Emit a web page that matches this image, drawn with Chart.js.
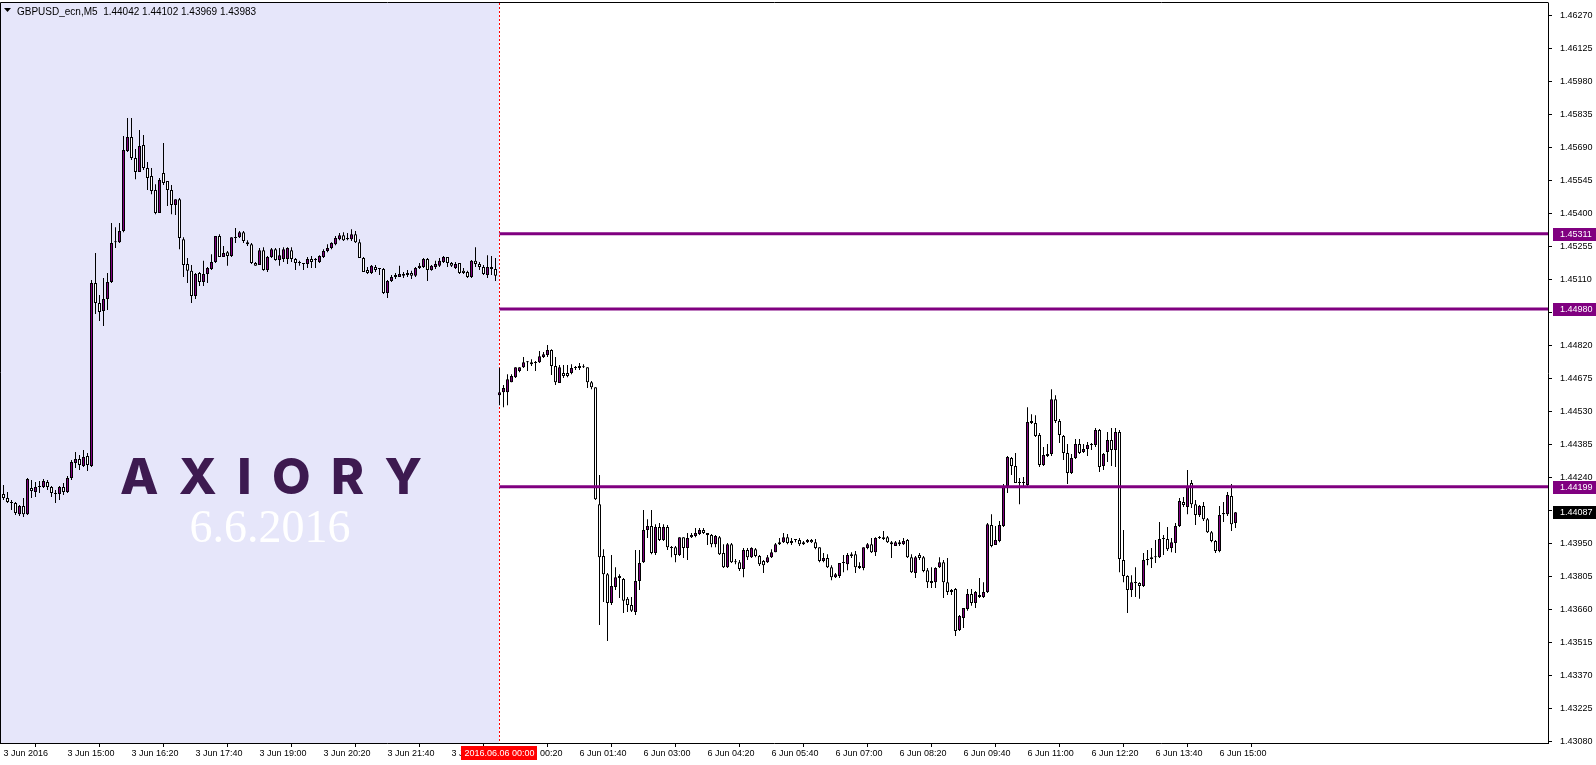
<!DOCTYPE html>
<html>
<head>
<meta charset="utf-8">
<script src="https://cdn.jsdelivr.net/npm/chart.js@4/dist/chart.umd.min.js"></script>
<style>
  html, body { margin: 0; padding: 0; background: #ffffff; }
  canvas { display: block; }
</style>
</head>
<body>
<canvas id="myChart" width="1596" height="765"></canvas>
<script>
// GBPUSD M5, 3 Jun 2016 13:40 .. 6 Jun 2016 15:20 (one value per bar)
const openP = [
	1.44167, 1.44150, 1.44128, 1.44128, 1.44079, 1.44115, 1.44079, 1.44194, 1.44176, 1.44198,
	1.44198, 1.44220, 1.44198, 1.44167, 1.44167, 1.44198, 1.44176, 1.44238, 1.44304, 1.44321,
	1.44291, 1.44335, 1.44291, 1.45095, 1.45007, 1.44972, 1.45024, 1.45099, 1.45274, 1.45274,
	1.45323, 1.45675, 1.45736, 1.45644, 1.45582, 1.45701, 1.45600, 1.45565, 1.45503, 1.45402,
	1.45578, 1.45543, 1.45503, 1.45437, 1.45463, 1.45287, 1.45178, 1.45148, 1.45038, 1.45139,
	1.45099, 1.45134, 1.45156, 1.45187, 1.45301, 1.45209, 1.45230, 1.45213, 1.45292, 1.45296,
	1.45318, 1.45274, 1.45265, 1.45183, 1.45174, 1.45239, 1.45152, 1.45209, 1.45243, 1.45196,
	1.45200, 1.45200, 1.45239, 1.45200, 1.45183, 1.45178, 1.45178, 1.45200, 1.45196, 1.45187,
	1.45209, 1.45235, 1.45248, 1.45265, 1.45287, 1.45305, 1.45287, 1.45287, 1.45309, 1.45274,
	1.45204, 1.45152, 1.45139, 1.45165, 1.45156, 1.45156, 1.45051, 1.45104, 1.45121, 1.45121,
	1.45126, 1.45130, 1.45139, 1.45126, 1.45161, 1.45165, 1.45200, 1.45152, 1.45165, 1.45170,
	1.45187, 1.45209, 1.45183, 1.45161, 1.45183, 1.45148, 1.45143, 1.45121, 1.45192, 1.45178,
	1.45165, 1.45130, 1.45165, 1.45156, 1.44602, 1.44615, 1.44615, 1.44659, 1.44681, 1.44708,
	1.44725, 1.44747, 1.44747, 1.44743, 1.44747, 1.44769, 1.44778, 1.44800, 1.44730, 1.44655,
	1.44699, 1.44699, 1.44699, 1.44721, 1.44721, 1.44725, 1.44725, 1.44659, 1.44637, 1.44123,
	1.43895, 1.43815, 1.43689, 1.43759, 1.43807, 1.43794, 1.43707, 1.43680, 1.43649, 1.43785,
	1.43868, 1.44009, 1.44027, 1.43908, 1.44022, 1.43965, 1.44022, 1.43934, 1.43934, 1.43899,
	1.43978, 1.43930, 1.43978, 1.43983, 1.43992, 1.44009, 1.43996, 1.43987, 1.43947, 1.43978,
	1.43908, 1.43846, 1.43947, 1.43868, 1.43868, 1.43838, 1.43921, 1.43890, 1.43925, 1.43895,
	1.43873, 1.43868, 1.43890, 1.43912, 1.43947, 1.43956, 1.43978, 1.43952, 1.43965, 1.43965,
	1.43947, 1.43956, 1.43965, 1.43956, 1.43934, 1.43873, 1.43886, 1.43846, 1.43802, 1.43807,
	1.43864, 1.43859, 1.43895, 1.43903, 1.43851, 1.43842, 1.43930, 1.43947, 1.43912, 1.43974,
	1.43970, 1.43978, 1.43956, 1.43939, 1.43956, 1.43947, 1.43965, 1.43890, 1.43820, 1.43899,
	1.43890, 1.43833, 1.43785, 1.43780, 1.43846, 1.43868, 1.43780, 1.43746, 1.43750, 1.43570,
	1.43623, 1.43662, 1.43728, 1.43689, 1.43724, 1.43715, 1.43737, 1.44031, 1.43943, 1.43961,
	1.44027, 1.44203, 1.44326, 1.44291, 1.44216, 1.44216, 1.44207, 1.44488, 1.44480, 1.44427,
	1.44295, 1.44335, 1.44343, 1.44584, 1.44488, 1.44422, 1.44348, 1.44260, 1.44326, 1.44387,
	1.44352, 1.44365, 1.44383, 1.44383, 1.44449, 1.44291, 1.44352, 1.44405, 1.44361, 1.44440,
	1.43877, 1.43807, 1.43746, 1.43776, 1.43776, 1.43763, 1.43877, 1.43882, 1.43890, 1.43890,
	1.43970, 1.43970, 1.43930, 1.43952, 1.44027, 1.44132, 1.44110, 1.44216, 1.44123, 1.44075,
	1.44115, 1.44057, 1.44000, 1.43961, 1.43917, 1.44079, 1.44079, 1.44159, 1.44040
];
const highP = [
	1.44207, 1.44176, 1.44141, 1.44132, 1.44119, 1.44150, 1.44238, 1.44229, 1.44220, 1.44225,
	1.44233, 1.44229, 1.44203, 1.44185, 1.44203, 1.44216, 1.44247, 1.44317, 1.44352, 1.44339,
	1.44361, 1.44348, 1.45108, 1.45226, 1.45042, 1.45117, 1.45139, 1.45358, 1.45340, 1.45358,
	1.45741, 1.45820, 1.45820, 1.45683, 1.45767, 1.45745, 1.45626, 1.45600, 1.45529, 1.45556,
	1.45710, 1.45543, 1.45525, 1.45463, 1.45468, 1.45296, 1.45204, 1.45174, 1.45139, 1.45143,
	1.45192, 1.45165, 1.45221, 1.45301, 1.45309, 1.45257, 1.45235, 1.45296, 1.45336, 1.45323,
	1.45323, 1.45283, 1.45270, 1.45187, 1.45248, 1.45252, 1.45213, 1.45248, 1.45248, 1.45248,
	1.45252, 1.45252, 1.45252, 1.45204, 1.45192, 1.45183, 1.45209, 1.45213, 1.45204, 1.45217,
	1.45243, 1.45265, 1.45274, 1.45301, 1.45314, 1.45318, 1.45314, 1.45331, 1.45323, 1.45287,
	1.45209, 1.45165, 1.45174, 1.45174, 1.45161, 1.45161, 1.45108, 1.45130, 1.45139, 1.45170,
	1.45143, 1.45152, 1.45148, 1.45165, 1.45183, 1.45204, 1.45204, 1.45174, 1.45192, 1.45204,
	1.45213, 1.45209, 1.45187, 1.45187, 1.45183, 1.45161, 1.45148, 1.45196, 1.45252, 1.45187,
	1.45174, 1.45217, 1.45213, 1.45204, 1.44721, 1.44646, 1.44694, 1.44694, 1.44725, 1.44725,
	1.44769, 1.44752, 1.44760, 1.44752, 1.44796, 1.44791, 1.44822, 1.44804, 1.44769, 1.44734,
	1.44734, 1.44734, 1.44738, 1.44730, 1.44743, 1.44738, 1.44725, 1.44664, 1.44637, 1.44251,
	1.43925, 1.43820, 1.43899, 1.43846, 1.43815, 1.43798, 1.43715, 1.43715, 1.43921, 1.43921,
	1.44097, 1.44057, 1.44097, 1.44035, 1.44040, 1.44035, 1.44031, 1.43939, 1.43939, 1.43978,
	1.43978, 1.43996, 1.43996, 1.44018, 1.44018, 1.44018, 1.43996, 1.43992, 1.43987, 1.43983,
	1.43947, 1.43952, 1.43952, 1.43882, 1.43877, 1.43930, 1.43930, 1.43934, 1.43930, 1.43899,
	1.43877, 1.43899, 1.43925, 1.43952, 1.43974, 1.43996, 1.43992, 1.43974, 1.43970, 1.43974,
	1.43961, 1.43970, 1.43970, 1.43970, 1.43934, 1.43908, 1.43903, 1.43855, 1.43820, 1.43864,
	1.43899, 1.43908, 1.43912, 1.43917, 1.43868, 1.43934, 1.43952, 1.43974, 1.43978, 1.43983,
	1.44005, 1.43983, 1.43961, 1.43961, 1.43965, 1.43974, 1.43970, 1.43903, 1.43895, 1.43908,
	1.43895, 1.43842, 1.43846, 1.43846, 1.43890, 1.43877, 1.43886, 1.43750, 1.43754, 1.43636,
	1.43667, 1.43750, 1.43750, 1.43741, 1.43798, 1.43780, 1.44040, 1.44079, 1.44027, 1.44049,
	1.44211, 1.44335, 1.44330, 1.44348, 1.44238, 1.44242, 1.44549, 1.44518, 1.44514, 1.44436,
	1.44374, 1.44387, 1.44628, 1.44602, 1.44497, 1.44427, 1.44387, 1.44343, 1.44409, 1.44409,
	1.44387, 1.44396, 1.44392, 1.44458, 1.44453, 1.44348, 1.44440, 1.44458, 1.44458, 1.44449,
	1.44009, 1.43811, 1.43811, 1.43846, 1.43780, 1.43908, 1.43921, 1.43930, 1.43965, 1.44044,
	1.43987, 1.44022, 1.43974, 1.44040, 1.44150, 1.44154, 1.44273, 1.44229, 1.44141, 1.44119,
	1.44132, 1.44062, 1.44005, 1.43965, 1.44115, 1.44132, 1.44176, 1.44211, 1.44088
];
const lowP = [
	1.44141, 1.44128, 1.44097, 1.44075, 1.44071, 1.44066, 1.44075, 1.44150, 1.44154, 1.44172,
	1.44194, 1.44185, 1.44154, 1.44128, 1.44141, 1.44163, 1.44172, 1.44229, 1.44282, 1.44273,
	1.44286, 1.44269, 1.44286, 1.44958, 1.44928, 1.44906, 1.44976, 1.45095, 1.45248, 1.45270,
	1.45318, 1.45670, 1.45635, 1.45551, 1.45582, 1.45591, 1.45503, 1.45485, 1.45397, 1.45402,
	1.45525, 1.45433, 1.45397, 1.45393, 1.45243, 1.45121, 1.45095, 1.45007, 1.45024, 1.45082,
	1.45082, 1.45095, 1.45152, 1.45183, 1.45209, 1.45209, 1.45170, 1.45209, 1.45270, 1.45292,
	1.45270, 1.45257, 1.45178, 1.45170, 1.45174, 1.45148, 1.45143, 1.45204, 1.45192, 1.45170,
	1.45187, 1.45178, 1.45187, 1.45152, 1.45170, 1.45152, 1.45161, 1.45161, 1.45161, 1.45183,
	1.45204, 1.45230, 1.45243, 1.45261, 1.45283, 1.45279, 1.45283, 1.45279, 1.45270, 1.45204,
	1.45143, 1.45134, 1.45134, 1.45143, 1.45130, 1.45046, 1.45029, 1.45099, 1.45112, 1.45121,
	1.45117, 1.45121, 1.45112, 1.45121, 1.45156, 1.45161, 1.45104, 1.45148, 1.45156, 1.45165,
	1.45183, 1.45165, 1.45165, 1.45156, 1.45134, 1.45134, 1.45117, 1.45117, 1.45165, 1.45152,
	1.45130, 1.45117, 1.45130, 1.45104, 1.44558, 1.44549, 1.44558, 1.44659, 1.44677, 1.44703,
	1.44721, 1.44708, 1.44730, 1.44708, 1.44743, 1.44765, 1.44769, 1.44690, 1.44646, 1.44655,
	1.44677, 1.44681, 1.44694, 1.44712, 1.44712, 1.44721, 1.44633, 1.44628, 1.44141, 1.43592,
	1.43693, 1.43522, 1.43680, 1.43746, 1.43711, 1.43645, 1.43649, 1.43649, 1.43636, 1.43746,
	1.43864, 1.43974, 1.43903, 1.43899, 1.43961, 1.43961, 1.43921, 1.43890, 1.43868, 1.43895,
	1.43886, 1.43877, 1.43974, 1.43978, 1.43987, 1.43992, 1.43943, 1.43934, 1.43934, 1.43899,
	1.43842, 1.43842, 1.43864, 1.43859, 1.43829, 1.43802, 1.43877, 1.43886, 1.43890, 1.43851,
	1.43820, 1.43864, 1.43886, 1.43912, 1.43943, 1.43952, 1.43947, 1.43943, 1.43956, 1.43939,
	1.43943, 1.43952, 1.43952, 1.43925, 1.43868, 1.43868, 1.43842, 1.43789, 1.43798, 1.43798,
	1.43824, 1.43833, 1.43886, 1.43820, 1.43838, 1.43833, 1.43925, 1.43908, 1.43895, 1.43970,
	1.43965, 1.43952, 1.43886, 1.43939, 1.43939, 1.43943, 1.43886, 1.43820, 1.43798, 1.43877,
	1.43824, 1.43754, 1.43754, 1.43754, 1.43842, 1.43711, 1.43724, 1.43724, 1.43544, 1.43566,
	1.43579, 1.43654, 1.43676, 1.43667, 1.43711, 1.43711, 1.43733, 1.43934, 1.43943, 1.43956,
	1.44022, 1.44172, 1.44251, 1.44216, 1.44123, 1.44203, 1.44203, 1.44475, 1.44418, 1.44286,
	1.44291, 1.44330, 1.44335, 1.44480, 1.44392, 1.44317, 1.44211, 1.44255, 1.44321, 1.44343,
	1.44348, 1.44335, 1.44361, 1.44374, 1.44264, 1.44273, 1.44308, 1.44291, 1.44286, 1.43824,
	1.43780, 1.43645, 1.43715, 1.43715, 1.43707, 1.43759, 1.43855, 1.43842, 1.43864, 1.43886,
	1.43899, 1.43917, 1.43912, 1.43908, 1.44022, 1.44110, 1.44079, 1.44106, 1.44031, 1.44066,
	1.44049, 1.43996, 1.43956, 1.43908, 1.43912, 1.44044, 1.44071, 1.44005, 1.44018
];
const closeP = [
	1.44150, 1.44132, 1.44128, 1.44084, 1.44115, 1.44079, 1.44233, 1.44181, 1.44198, 1.44198,
	1.44225, 1.44198, 1.44172, 1.44167, 1.44198, 1.44176, 1.44238, 1.44308, 1.44321, 1.44295,
	1.44330, 1.44295, 1.45095, 1.45007, 1.44967, 1.45024, 1.45099, 1.45270, 1.45274, 1.45323,
	1.45679, 1.45736, 1.45644, 1.45582, 1.45697, 1.45600, 1.45556, 1.45499, 1.45402, 1.45547,
	1.45534, 1.45503, 1.45437, 1.45463, 1.45292, 1.45174, 1.45148, 1.45038, 1.45134, 1.45099,
	1.45134, 1.45161, 1.45187, 1.45301, 1.45209, 1.45226, 1.45213, 1.45296, 1.45296, 1.45318,
	1.45279, 1.45265, 1.45183, 1.45170, 1.45239, 1.45152, 1.45209, 1.45243, 1.45196, 1.45217,
	1.45243, 1.45248, 1.45200, 1.45183, 1.45183, 1.45178, 1.45200, 1.45187, 1.45196, 1.45213,
	1.45235, 1.45248, 1.45270, 1.45292, 1.45305, 1.45283, 1.45292, 1.45309, 1.45274, 1.45204,
	1.45143, 1.45139, 1.45170, 1.45152, 1.45156, 1.45051, 1.45104, 1.45121, 1.45130, 1.45134,
	1.45134, 1.45139, 1.45126, 1.45161, 1.45170, 1.45200, 1.45152, 1.45170, 1.45178, 1.45192,
	1.45209, 1.45183, 1.45170, 1.45178, 1.45139, 1.45139, 1.45121, 1.45192, 1.45178, 1.45165,
	1.45134, 1.45165, 1.45156, 1.45126, 1.44615, 1.44633, 1.44672, 1.44686, 1.44725, 1.44725,
	1.44747, 1.44747, 1.44738, 1.44747, 1.44773, 1.44782, 1.44800, 1.44730, 1.44659, 1.44725,
	1.44686, 1.44686, 1.44721, 1.44721, 1.44730, 1.44725, 1.44659, 1.44637, 1.44145, 1.43890,
	1.43815, 1.43689, 1.43763, 1.43802, 1.43798, 1.43698, 1.43680, 1.43654, 1.43785, 1.43864,
	1.44009, 1.44027, 1.43908, 1.44022, 1.43965, 1.44022, 1.43934, 1.43930, 1.43899, 1.43978,
	1.43930, 1.43974, 1.43987, 1.43996, 1.44009, 1.43996, 1.43987, 1.43947, 1.43983, 1.43903,
	1.43846, 1.43947, 1.43868, 1.43868, 1.43838, 1.43921, 1.43890, 1.43930, 1.43895, 1.43859,
	1.43855, 1.43890, 1.43912, 1.43947, 1.43956, 1.43978, 1.43952, 1.43961, 1.43965, 1.43947,
	1.43956, 1.43965, 1.43956, 1.43930, 1.43873, 1.43886, 1.43846, 1.43802, 1.43815, 1.43864,
	1.43864, 1.43899, 1.43903, 1.43846, 1.43842, 1.43934, 1.43947, 1.43912, 1.43974, 1.43974,
	1.43978, 1.43956, 1.43947, 1.43956, 1.43947, 1.43961, 1.43890, 1.43824, 1.43890, 1.43886,
	1.43829, 1.43780, 1.43776, 1.43842, 1.43868, 1.43780, 1.43737, 1.43737, 1.43566, 1.43632,
	1.43667, 1.43728, 1.43689, 1.43737, 1.43715, 1.43737, 1.44035, 1.43939, 1.43965, 1.44031,
	1.44203, 1.44330, 1.44291, 1.44216, 1.44216, 1.44216, 1.44484, 1.44480, 1.44422, 1.44295,
	1.44339, 1.44343, 1.44584, 1.44488, 1.44427, 1.44348, 1.44260, 1.44326, 1.44387, 1.44348,
	1.44365, 1.44383, 1.44383, 1.44449, 1.44286, 1.44343, 1.44405, 1.44361, 1.44440, 1.43882,
	1.43807, 1.43746, 1.43780, 1.43776, 1.43763, 1.43877, 1.43882, 1.43890, 1.43890, 1.43970,
	1.43970, 1.43925, 1.43956, 1.44027, 1.44137, 1.44119, 1.44198, 1.44123, 1.44075, 1.44115,
	1.44057, 1.44000, 1.43961, 1.43917, 1.44075, 1.44084, 1.44163, 1.44035, 1.44087
];

// x axis labels, one every 16 bars (80 minutes)
const timeLabels = [
	"3 Jun 2016", "3 Jun 15:00", "3 Jun 16:20", "3 Jun 17:40", "3 Jun 19:00",
	"3 Jun 20:20", "3 Jun 21:40", "3 Jun 23:00", "6 Jun 00:20", "6 Jun 01:40",
	"6 Jun 03:00", "6 Jun 04:20", "6 Jun 05:40", "6 Jun 07:00", "6 Jun 08:20",
	"6 Jun 09:40", "6 Jun 11:00", "6 Jun 12:20", "6 Jun 13:40", "6 Jun 15:00",
];
const barsPerLabel = 16;

// price scale labels
const priceTicks = [
	1.46270, 1.46125, 1.45980, 1.45835, 1.45690, 1.45545, 1.45400, 1.45255,
	1.45110, 1.44965, 1.44820, 1.44675, 1.44530, 1.44385, 1.44240, 1.44095,
	1.43950, 1.43805, 1.43660, 1.43515, 1.43370, 1.43225, 1.43080,
];

// horizontal levels, drawn from the Monday open
const levels = [1.45311, 1.44980, 1.44199];
const lastPrice = 1.44087;
const sessionBar = 124; // 6 Jun 00:00
const sessionLabel = "2016.06.06 00:00";
const titleText = "GBPUSD_ecn,M5  1.44042 1.44102 1.43969 1.43983";

const PURPLE = "#800080";
const PX_PER_BAR = 4;
const AXIS_W = 48;
const AXIS_H = 22;
const X_MIN = -0.875;
const X_MAX = X_MIN + (1596 - AXIS_W) / PX_PER_BAR;
const Y_MAX = 1.46325;
const Y_MIN = Y_MAX - (765 - AXIS_H - 3) * 0.00004394;

// Data block
const wicks = lowP.map((l, i) => ({ x: i, y: [l, highP[i]] }));
const bodies = openP.map((o, i) => ({ x: i, y: [o, closeP[i]] }));
const bodyColors = openP.map((o, i) => (closeP[i] > o ? PURPLE : "#ffffff"));

const levelSets = levels.map((lv) => ({
	type: "line",
	data: [
		{ x: sessionBar, y: lv },
		{ x: X_MAX, y: lv },
	],
	borderColor: PURPLE,
	borderWidth: 3,
	pointRadius: 0,
	order: 0,
}));

// background, separator, logo, title and price boxes
const mt4Plugin = {
	id: "mt4",
	beforeDatasetsDraw(chart) {
		const { ctx, chartArea: a, scales } = chart;
		const sx = Math.floor(scales.x.getPixelForValue(sessionBar));
		ctx.save();
		ctx.fillStyle = "#e6e6fa";
		ctx.fillRect(a.left, a.top, sx - a.left, a.bottom - a.top);

		// watermark
		ctx.fillStyle = "#3d1a50";
		ctx.font = "800 50px Inter, Lato";
		ctx.textBaseline = "alphabetic";
		const word = "AXIORY";
		const widths = [...word].map((c) => ctx.measureText(c).width);
		const sum = widths.reduce((p, c) => p + c, 0);
		const gap = (302 - sum) / (word.length - 1);
		let lx = 120;
		[...word].forEach((c, k) => {
			ctx.fillText(c, lx, 494);
			lx += widths[k] + gap;
		});
		ctx.fillStyle = "#ffffff";
		ctx.font = "46px 'Liberation Serif'";
		ctx.textAlign = "center";
		ctx.fillText("6.6.2016", 270, 542);

		// period separator
		ctx.strokeStyle = "#ff0000";
		ctx.lineWidth = 1;
		ctx.setLineDash([2, 2]);
		ctx.beginPath();
		ctx.moveTo(sx + 0.5, a.top);
		ctx.lineTo(sx + 0.5, a.bottom);
		ctx.stroke();
		ctx.restore();
	},
	afterDraw(chart) {
		const { ctx, chartArea: a, scales } = chart;
		ctx.save();
		// frame top / left
		ctx.strokeStyle = "#000000";
		ctx.lineWidth = 1;
		ctx.beginPath();
		ctx.moveTo(0.5, a.bottom);
		ctx.lineTo(0.5, 2.5);
		ctx.lineTo(a.right + 0.5, 2.5);
		ctx.stroke();

		// title
		ctx.fillStyle = "#000000";
		ctx.beginPath();
		ctx.moveTo(4, 8);
		ctx.lineTo(11, 8);
		ctx.lineTo(7.5, 12);
		ctx.closePath();
		ctx.fill();
		ctx.font = "10px 'Liberation Sans'";
		ctx.textBaseline = "alphabetic";
		ctx.fillText(titleText, 17, 15);

		// price boxes on the axis
		ctx.font = "9px 'Liberation Sans'";
		ctx.textBaseline = "middle";
		const boxes = levels.map((v) => [v, PURPLE]).concat([[lastPrice, "#000000"]]);
		boxes.forEach(([v, col]) => {
			const py = Math.round(scales.y.getPixelForValue(v));
			ctx.fillStyle = col;
			ctx.fillRect(a.right + 5, py - 6, 1596 - a.right - 5, 13);
			ctx.fillStyle = "#ffffff";
			ctx.fillText(v.toFixed(5), a.right + 12, py + 0.5);
		});

		// separator date box
		const sx = Math.floor(scales.x.getPixelForValue(sessionBar));
		const tw = ctx.measureText(sessionLabel).width + 6;
		ctx.fillStyle = "#ff0000";
		ctx.fillRect(Math.round(sx - tw / 2), a.bottom + 3, Math.round(tw), 14);
		ctx.fillStyle = "#ffffff";
		ctx.textAlign = "center";
		ctx.fillText(sessionLabel, sx + 0.5, a.bottom + 10.5);
		ctx.restore();
	},
};

// Config Block
const config = {
	type: "bar",
	data: {
		datasets: [
			...levelSets,
			{
				label: "body",
				data: bodies,
				backgroundColor: bodyColors,
				borderColor: "#000000",
				borderWidth: 1,
				borderSkipped: false,
				barThickness: 3,
				minBarLength: 1,
				inflateAmount: 0,
				grouped: false,
				order: 1,
			},
			{
				label: "wick",
				data: wicks,
				backgroundColor: "#000000",
				borderWidth: 0,
				barThickness: 1,
				minBarLength: 1,
				inflateAmount: 0,
				grouped: false,
				order: 2,
			},
		],
	},
	options: {
		responsive: false,
		animation: false,
		layout: { padding: { top: 3, left: 0, right: 0, bottom: 0 } },
		plugins: {
			legend: { display: false },
			tooltip: { enabled: false },
		},
		scales: {
			x: {
				type: "linear",
				min: X_MIN,
				max: X_MAX,
				offset: false,
				afterBuildTicks: (s) => {
					s.ticks = timeLabels.map((t, k) => ({ value: k * barsPerLabel }));
				},
				afterFit: (s) => {
					s.height = AXIS_H;
					s.paddingLeft = 0;
					s.paddingRight = 0;
				},
				ticks: {
					autoSkip: false,
					maxRotation: 0,
					align: "start",
					padding: 1,
					color: "#000000",
					font: { family: "'Liberation Sans'", size: 9 },
					callback: (v, k) => timeLabels[k],
				},
				grid: { drawOnChartArea: false, drawTicks: true, tickLength: 4, color: "#000000" },
				border: { display: true, color: "#000000" },
			},
			y: {
				position: "right",
				min: Y_MIN,
				max: Y_MAX,
				afterBuildTicks: (s) => {
					s.ticks = priceTicks.map((v) => ({ value: v }));
				},
				afterFit: (s) => {
					s.width = AXIS_W;
					s.paddingTop = 0;
					s.paddingBottom = 0;
				},
				ticks: {
					padding: 8,
					color: "#000000",
					font: { family: "'Liberation Sans'", size: 9 },
					callback: (v) => v.toFixed(5),
				},
				grid: { drawOnChartArea: false, drawTicks: true, tickLength: 4, color: "#000000" },
				border: { display: true, color: "#000000" },
			},
		},
	},
	plugins: [mt4Plugin],
};

// Render Block
const myChart = new Chart(document.getElementById("myChart"), config);
</script>
</body>
</html>
